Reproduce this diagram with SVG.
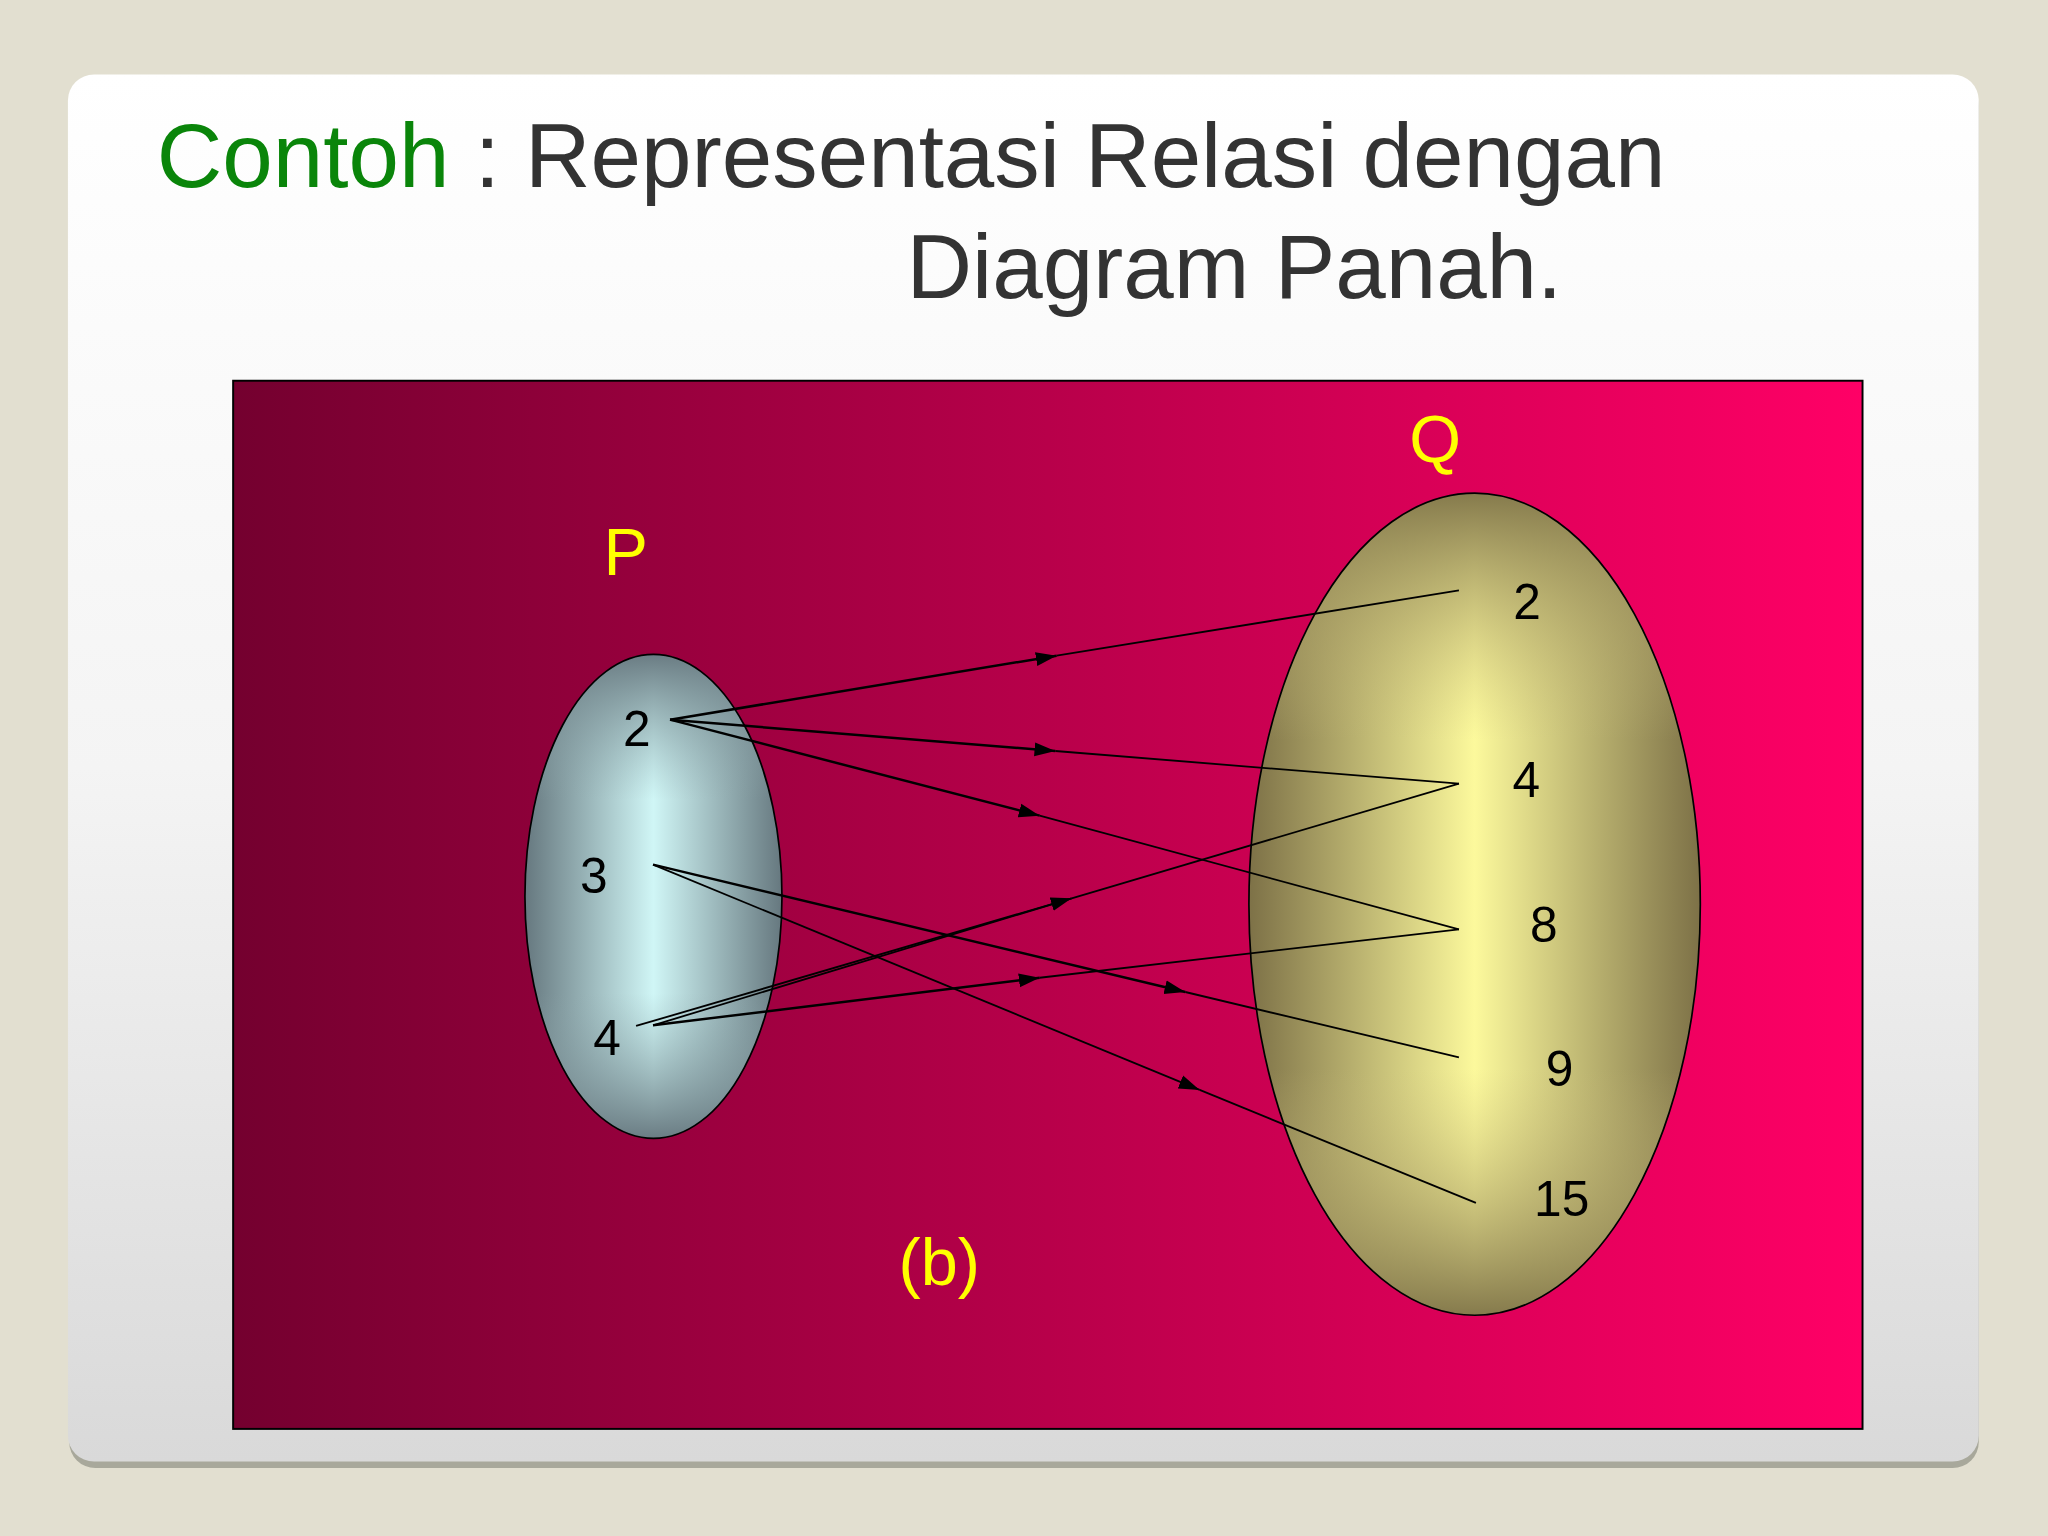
<svg xmlns="http://www.w3.org/2000/svg" width="2048" height="1536" viewBox="0 0 2048 1536">
<defs>
<style>
text{font-family:"Liberation Sans",Arial,sans-serif}
.title{font-size:69.5px;fill:#333333}
.green{fill:#0a850a}
.setlbl{font-size:51px;fill:#ffff00}
.elem{font-size:38px;fill:#000000}
.seg1{stroke:#000;stroke-width:1.9;fill:none}
.seg2{stroke:#000;stroke-width:1.4;fill:none}
</style>
<linearGradient id="cardG" x1="0" y1="0" x2="0" y2="1">
<stop offset="0" stop-color="#ffffff"/>
<stop offset="0.5" stop-color="#f4f4f4"/>
<stop offset="1" stop-color="#d9d9d9"/>
</linearGradient>
<linearGradient id="rectG" x1="0" y1="0" x2="1" y2="0">
<stop offset="0" stop-color="#74002f"/>
<stop offset="0.5" stop-color="#b8004a"/>
<stop offset="1" stop-color="#ff0066"/>
</linearGradient>
<linearGradient id="pH" x1="0" y1="0" x2="1" y2="0">
<stop offset="0" stop-color="#66787f"/>
<stop offset="0.5" stop-color="#d0f6f6"/>
<stop offset="1" stop-color="#66787f"/>
</linearGradient>
<linearGradient id="pV" x1="0" y1="0" x2="0" y2="1">
<stop offset="0" stop-color="#6a7c83" stop-opacity="1"/>
<stop offset="0.3" stop-color="#8fa8ac" stop-opacity="0"/>
<stop offset="0.7" stop-color="#8fa8ac" stop-opacity="0"/>
<stop offset="1" stop-color="#6a7c83" stop-opacity="1"/>
</linearGradient>
<linearGradient id="qH" x1="0" y1="0" x2="1" y2="0">
<stop offset="0" stop-color="#7d7147"/>
<stop offset="0.5" stop-color="#fcf99c"/>
<stop offset="1" stop-color="#7d7147"/>
</linearGradient>
<linearGradient id="qV" x1="0" y1="0" x2="0" y2="1">
<stop offset="0" stop-color="#857a4c" stop-opacity="1"/>
<stop offset="0.3" stop-color="#c9bd7c" stop-opacity="0"/>
<stop offset="0.7" stop-color="#c9bd7c" stop-opacity="0"/>
<stop offset="1" stop-color="#857a4c" stop-opacity="1"/>
</linearGradient>
<marker id="arr" markerUnits="userSpaceOnUse" markerWidth="17" markerHeight="12" refX="15" refY="5" orient="auto" viewBox="0 0 16 10">
<path d="M0,0 L15,5 L0,10 Z" fill="#000"/>
</marker>
</defs>
<rect x="0" y="0" width="2048" height="1536" fill="#e2dfd0"/>
<g transform="scale(1.306122)">
<g id="card">
<rect x="53" y="61" width="1462" height="1063" rx="20" fill="#a8a89b"/>
<rect x="52" y="57" width="1463" height="1062" rx="20" fill="url(#cardG)"/>
</g>
<g id="title">
<text x="120" y="143" class="title"><tspan class="green">Contoh</tspan> : Representasi Relasi dengan</text>
<text x="694" y="228" class="title">Diagram Panah.</text>
</g>
<g id="panel">
<rect x="178.5" y="291.5" width="1247.5" height="802.5" fill="url(#rectG)" stroke="#000" stroke-width="1.5"/>
</g>
<g id="set-P">
<ellipse cx="500.3" cy="686.3" rx="98.4" ry="185.3" fill="url(#pH)"/>
<ellipse cx="500.3" cy="686.3" rx="98.4" ry="185.3" fill="url(#pV)" stroke="#000" stroke-width="1.3"/>
<text x="462" y="440" class="setlbl">P</text>
</g>
<g id="set-Q">
<ellipse cx="1129" cy="692.3" rx="172.8" ry="314.7" fill="url(#qH)"/>
<ellipse cx="1129" cy="692.3" rx="172.8" ry="314.7" fill="url(#qV)" stroke="#000" stroke-width="1.3"/>
<text x="1079" y="353.5" class="setlbl">Q</text>
</g>
<g id="connectors">
<line class="seg1" x1="513" y1="551" x2="809" y2="502" marker-end="url(#arr)"/>
<line class="seg2" x1="809" y1="502" x2="1117" y2="452"/>
<line class="seg1" x1="513" y1="551" x2="808" y2="575" marker-end="url(#arr)"/>
<line class="seg2" x1="808" y1="575" x2="1117" y2="600"/>
<line class="seg1" x1="513" y1="551" x2="796" y2="624.5" marker-end="url(#arr)"/>
<line class="seg2" x1="796" y1="624.5" x2="1117" y2="711.5"/>
<line class="seg1" x1="500" y1="662" x2="907.5" y2="759.5" marker-end="url(#arr)"/>
<line class="seg2" x1="907.5" y1="759.5" x2="1117" y2="809.5"/>
<line class="seg2" x1="500" y1="662" x2="918.5" y2="834.5" marker-end="url(#arr)"/>
<line class="seg2" x1="918.5" y1="834.5" x2="1130" y2="921"/>
<line class="seg2" x1="487" y1="785.5" x2="820.5" y2="687.8" marker-end="url(#arr)"/>
<line class="seg2" x1="500" y1="785" x2="820.5" y2="687.8"/>
<line class="seg2" x1="820.5" y1="687.8" x2="1117" y2="600"/>
<line class="seg1" x1="500" y1="785" x2="796" y2="748.6" marker-end="url(#arr)"/>
<line class="seg2" x1="796" y1="748.6" x2="1117" y2="711.5"/>
</g>
<g id="elem-P2"><text x="477" y="571.4" class="elem">2</text></g>
<g id="elem-P3"><text x="444" y="683.6" class="elem">3</text></g>
<g id="elem-P4"><text x="454.3" y="807.7" class="elem">4</text></g>
<g id="elem-Q2"><text x="1158.5" y="474" class="elem">2</text></g>
<g id="elem-Q4"><text x="1158" y="610" class="elem">4</text></g>
<g id="elem-Q8"><text x="1171.5" y="721.2" class="elem">8</text></g>
<g id="elem-Q9"><text x="1183.5" y="831.3" class="elem">9</text></g>
<g id="elem-Q15"><text x="1174.5" y="931" class="elem">15</text></g>
<g id="caption"><text x="688" y="984" class="setlbl">(b)</text></g>
</g>
</svg>
